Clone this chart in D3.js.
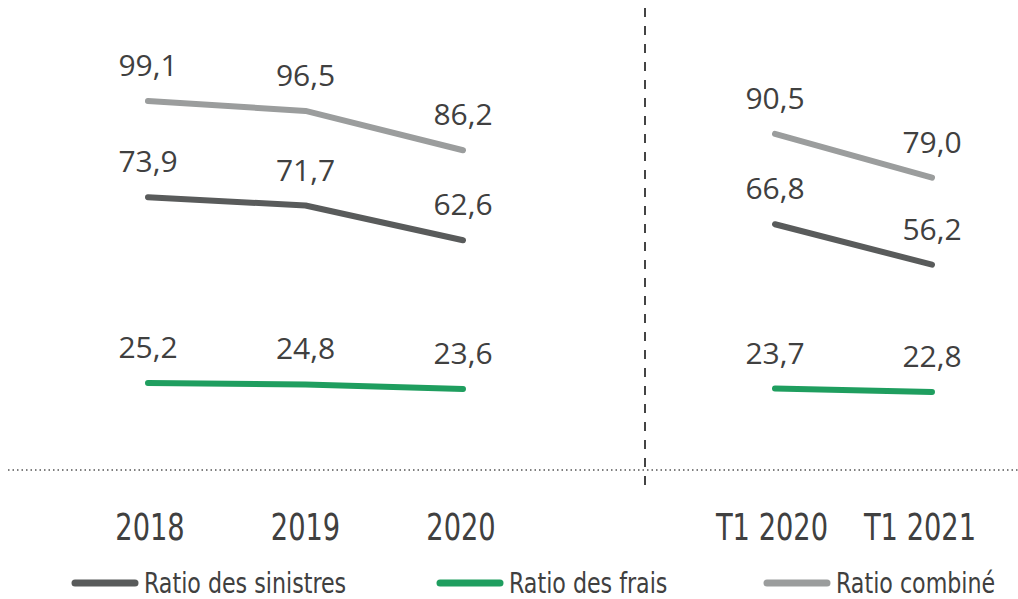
<!DOCTYPE html>
<html>
<head>
<meta charset="utf-8">
<script src="https://cdn.jsdelivr.net/npm/d3@7"></script>
<style>
  body { margin: 0; background: #fff; }
  .val { font-family: "Open Sans", sans-serif; font-size: 30px; fill: #404040; }
  .cat { font-family: "DejaVu Sans Condensed", sans-serif; font-size: 37px; fill: #404040; }
  .leg { font-family: "DejaVu Sans Condensed", sans-serif; font-size: 29px; fill: #404040; }
</style>
</head>
<body>
<div id="chart"></div>
<script>
// data
let yearCats = ['2018', '2019', '2020'];
let quarterCats = ['T1 2020', 'T1 2021'];

let sinistresYears = [73.9, 71.7, 62.6];
let fraisYears = [25.2, 24.8, 23.6];
let combineYears = [99.1, 96.5, 86.2];

let sinistresQuarters = [66.8, 56.2];
let fraisQuarters = [23.7, 22.8];
let combineQuarters = [90.5, 79.0];

let seriesNames = ['Ratio des sinistres', 'Ratio des frais', 'Ratio combiné'];
let seriesColors = ['#595b5b', '#1f9e5f', '#9b9d9d'];

let width = 1018, height = 599;

let svg = d3.select('#chart')
  .append('svg')
    .attr('width', width)
    .attr('height', height)
;

let xLeft = d3.scalePoint().domain(yearCats).range([148, 463]);
let xRight = d3.scalePoint().domain(quarterCats).range([775, 932]);
let y = d3.scaleLinear().domain([0, 100]).range([479, 97.6]);

// separators
svg.append('line')
    .attr('x1', 8).attr('x2', width)
    .attr('y1', 470).attr('y2', 470)
    .attr('stroke', '#555')
    .attr('stroke-width', 1.5)
    .attr('stroke-dasharray', '1.5,3')
;
svg.append('line')
    .attr('x1', 645).attr('x2', 645)
    .attr('y1', 8).attr('y2', 490)
    .attr('stroke', '#444')
    .attr('stroke-width', 2)
    .attr('stroke-dasharray', '9,9')
;

function drawPanel(x, cats, seriesList, catShift) {
  let line = d3.line()
    .x(function(d, i) { return x(cats[i]); })
    .y(function(d) { return y(d); });

  seriesList.forEach(function(vals, s) {
    svg.append('path')
        .datum(vals)
        .attr('d', line)
        .attr('fill', 'none')
        .attr('stroke', seriesColors[s])
        .attr('stroke-width', 6)
        .attr('stroke-linecap', 'round')
        .attr('stroke-linejoin', 'round')
    ;
    svg.selectAll(null).data(vals).enter()
      .append('text')
        .attr('class', 'val')
        .attr('x', function(d, i) { return x(cats[i]); })
        .attr('y', function(d) { return y(d) - 25; })
        .attr('text-anchor', 'middle')
        .text(function(d) { return d.toFixed(1).replace('.', ','); })
    ;
  });

  // condensed look: squeeze horizontally
  svg.selectAll(null).data(cats).enter()
    .append('text')
      .attr('class', 'cat')
      .attr('transform', function(d, i) {
        return 'translate(' + (x(d) + catShift[i]) + ',540) scale(0.82,1)';
      })
      .attr('text-anchor', 'middle')
      .text(function(d) { return d; })
  ;
}

drawPanel(xLeft, yearCats, [sinistresYears, fraisYears, combineYears], [2, 0, -2]);
drawPanel(xRight, quarterCats, [sinistresQuarters, fraisQuarters, combineQuarters], [-3, -12]);

// legend
let legendX = [75, 440, 767];
let legend = svg.selectAll('.legitem').data(seriesNames).enter()
  .append('g')
    .attr('class', 'legitem')
    .attr('transform', function(d, i) { return 'translate(' + legendX[i] + ',583)'; })
;
legend.append('line')
    .attr('x1', 0).attr('x2', 60)
    .attr('y1', 0).attr('y2', 0)
    .attr('stroke', function(d, i) { return seriesColors[i]; })
    .attr('stroke-width', 7)
    .attr('stroke-linecap', 'round')
;
legend.append('text')
    .attr('class', 'leg')
    .attr('transform', 'translate(69,10) scale(0.85,1)')
    .text(function(d) { return d; })
;
</script>
</body>
</html>
